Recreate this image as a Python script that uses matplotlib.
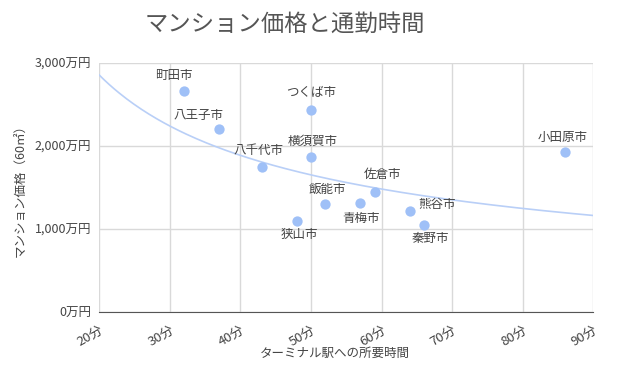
import numpy as np
import matplotlib
matplotlib.use('Agg')
import matplotlib.pyplot as plt
from matplotlib.ticker import FuncFormatter

plt.rcParams['font.family'] = ['Noto Sans CJK JP', 'DejaVu Sans']

# データ
cities = ['町田市', '八王子市', '八千代市', 'つくば市', '横須賀市', '狭山市',
          '飯能市', '青梅市', '佐倉市', '熊谷市', '秦野市', '小田原市']
minutes = [32, 37, 43, 50, 50, 48, 52, 57, 59, 64, 66, 86]
price = [2665, 2200, 1750, 2435, 1870, 1100, 1296, 1312, 1440, 1215, 1047, 1925]

fig = plt.figure(figsize=(6.2, 3.73), dpi=100)
ax = fig.add_axes([99.3/620, 1 - 312/373, (593.3-99.3)/620, (312-62.7)/373])

ax.scatter(minutes, price, s=55, color='#9fc0f7', zorder=3, linewidths=0)

# 累乗近似の傾向線
b, ln_a = np.polyfit(np.log(minutes), np.log(price), 1)
xs = np.linspace(20, 90, 200)
ax.plot(xs, np.exp(ln_a) * xs ** b, color='#b9cff7', lw=1.2, zorder=2)

# ラベル位置（点からのオフセット, pt）
offsets = {'町田市': (-7, 11), '八王子市': (-15, 9.5), '八千代市': (-2, 11.5),
           'つくば市': (0, 12), '横須賀市': (1.5, 11.3), '小田原市': (-1.5, 10.5),
           '佐倉市': (6, 13), '飯能市': (2, 11), '青梅市': (0.5, -11.5),
           '狭山市': (1.8, -10.3), '秦野市': (4.5, -10), '熊谷市': (19.5, 5)}
for c, x, y in zip(cities, minutes, price):
    dx, dy = offsets[c]
    ax.annotate(c, (x, y), xytext=(dx, dy), textcoords='offset points',
                ha='center', va='center', fontsize=9, color='#444444')

ax.set_xlim(20, 90)
ax.set_ylim(0, 3000)
ax.set_xticks(range(20, 91, 10))
ax.set_yticks(range(0, 3001, 1000))
ax.xaxis.set_major_formatter(FuncFormatter(lambda v, p: f'{int(v)}分'))
ax.yaxis.set_major_formatter(FuncFormatter(lambda v, p: f'{int(v):,}万円'))
plt.setp(ax.get_xticklabels(), rotation=30, ha='right', rotation_mode='anchor')
ax.tick_params(length=0, labelcolor='#444444')
ax.tick_params(axis='x', labelsize=9.5, pad=8)
ax.tick_params(axis='y', labelsize=9, pad=6)

ax.grid(color='#d9d9d9', lw=1)
ax.set_axisbelow(True)
for s in ['top', 'right', 'left']:
    ax.spines[s].set_visible(False)
ax.spines['bottom'].set_color('#555555')

ax.set_xlabel('ターミナル駅への所要時間', fontsize=9, color='#444444')
ax.xaxis.set_label_coords(0.477, -0.166)
ax.xaxis.label.set_va('center')
ax.set_ylabel('マンション価格（60㎡）', fontsize=9, color='#444444', labelpad=5)
fig.text(285/620, 1 - 24/373, 'マンション価格と通勤時間', ha='center', va='center',
         fontsize=16.8, color='#555555')

fig.savefig('out.png', dpi=100)
